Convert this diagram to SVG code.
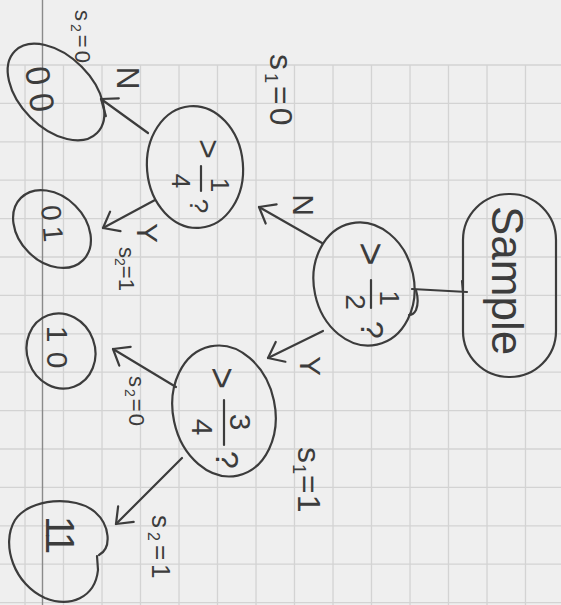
<svg xmlns="http://www.w3.org/2000/svg" width="561" height="605" viewBox="0 0 561 605">
  <defs>
    <style>
      .ink { fill: none; stroke: #3c3c3c; stroke-width: 2.2; stroke-linecap: round; stroke-linejoin: round; }
      .grid { stroke: #d3d3d3; stroke-width: 1.3; }
      .margin { stroke: #8a8a8a; stroke-width: 1.4; }
      text { font-family: "Liberation Sans", Arial, sans-serif; fill: #3c3c3c; }
      .c { text-anchor: middle; dominant-baseline: central; }
      .arrow { marker-end: url(#open); }
    </style>
    <marker id="open" viewBox="-16 -13 18 26" refX="0" refY="0" markerWidth="18" markerHeight="26" markerUnits="userSpaceOnUse" orient="auto" overflow="visible">
      <path d="M -14,-11 L 0,0 L -14,11" fill="none" stroke="#3c3c3c" stroke-width="2.2" stroke-linecap="round" stroke-linejoin="round"/>
    </marker>
  </defs>

  <!-- squared paper -->
  <rect x="0" y="0" width="561" height="605" fill="#efefef"/>
  <g id="paper-grid" class="grid">
    <line x1="0" y1="65" x2="561" y2="65"/>
    <line x1="0" y1="103.4" x2="561" y2="103.4"/>
    <line x1="0" y1="141.8" x2="561" y2="141.8"/>
    <line x1="0" y1="180.2" x2="561" y2="180.2"/>
    <line x1="0" y1="218.6" x2="561" y2="218.6"/>
    <line x1="0" y1="257" x2="561" y2="257"/>
    <line x1="0" y1="295.4" x2="561" y2="295.4"/>
    <line x1="0" y1="333.8" x2="561" y2="333.8"/>
    <line x1="0" y1="372.2" x2="561" y2="372.2"/>
    <line x1="0" y1="410.6" x2="561" y2="410.6"/>
    <line x1="0" y1="449" x2="561" y2="449"/>
    <line x1="0" y1="487.4" x2="561" y2="487.4"/>
    <line x1="0" y1="525.8" x2="561" y2="525.8"/>
    <line x1="0" y1="564.2" x2="561" y2="564.2"/>
    <line x1="0" y1="602.6" x2="561" y2="602.6"/>
    <line x1="25" y1="65" x2="25" y2="605"/>
    <line x1="63.5" y1="65" x2="63.5" y2="605"/>
    <line x1="102" y1="65" x2="102" y2="605"/>
    <line x1="140.5" y1="65" x2="140.5" y2="605"/>
    <line x1="179" y1="65" x2="179" y2="605"/>
    <line x1="217.5" y1="65" x2="217.5" y2="605"/>
    <line x1="256" y1="65" x2="256" y2="605"/>
    <line x1="294.5" y1="65" x2="294.5" y2="605"/>
    <line x1="333" y1="65" x2="333" y2="605"/>
    <line x1="371.5" y1="65" x2="371.5" y2="605"/>
    <line x1="410" y1="65" x2="410" y2="605"/>
    <line x1="448.5" y1="65" x2="448.5" y2="605"/>
    <line x1="487" y1="65" x2="487" y2="605"/>
    <line x1="525.5" y1="65" x2="525.5" y2="605"/>
  </g>
  <line class="margin" x1="42.5" y1="0" x2="42.5" y2="605"/>

  <!-- connectors -->
  <g id="connectors">
    <path class="ink" d="M 412,289 L 467,292"/>
    <path class="ink" d="M 462,281 L 463,292"/>
    <path class="ink" d="M 416,290 C 418,297 418,305 416,310 C 414,314 411,315 409,315"/>
    <path class="ink arrow" d="M 322,243 L 259,207"/>
    <path class="ink arrow" d="M 323,331 L 268,358"/>
    <path class="ink arrow" d="M 148,133 L 101,99"/>
    <path class="ink arrow" d="M 155,200 L 103,228"/>
    <path class="ink arrow" d="M 176,387 L 113,349"/>
    <path class="ink arrow" d="M 182,458 L 116,524"/>

    <text class="c" font-size="30" transform="translate(303,205) rotate(90)">N</text>
    <text class="c" font-size="30" transform="translate(310,366) rotate(90)">Y</text>
    <text class="c" font-size="32" transform="translate(128,78) rotate(90)">N</text>
    <text class="c" font-size="30" transform="translate(147,233) rotate(90)">Y</text>

    <text font-size="32" letter-spacing="3" transform="translate(270,54) rotate(90)">s<tspan font-size="18" dy="5">1</tspan><tspan dy="-5">=0</tspan></text>
    <text font-size="32" letter-spacing="1" transform="translate(298,447) rotate(90)">s<tspan font-size="18" dy="5">1</tspan><tspan dy="-5">=1</tspan></text>
    <text font-size="22" letter-spacing="3" transform="translate(75,10) rotate(90)">s<tspan font-size="14" dy="4">2</tspan><tspan dy="-4">=0</tspan></text>
    <text font-size="22" transform="translate(119,247) rotate(90)">s<tspan font-size="14" dy="4">2</tspan><tspan dy="-4">=1</tspan></text>
    <text font-size="22" letter-spacing="2" transform="translate(129,376) rotate(90)">s<tspan font-size="14" dy="4">2</tspan><tspan dy="-4">=0</tspan></text>
    <text font-size="26" letter-spacing="4" transform="translate(152,515) rotate(90)">s<tspan font-size="16" dy="4">2</tspan><tspan dy="-4">=1</tspan></text>
  </g>

  <!-- start node -->
  <g id="sample">
    <rect class="ink" x="463" y="194" width="93" height="183" rx="46"/>
    <text font-size="44" transform="translate(492,206) rotate(90)">Sample</text>
  </g>

  <!-- decision: > 1/2 ? -->
  <g id="half">
    <ellipse class="ink" cx="364" cy="284" rx="50" ry="62" transform="rotate(-12 364 284)"/>
    <g transform="translate(371,290) rotate(90)">
      <text class="c" font-size="40" x="-36" y="0">&gt;</text>
      <text class="c" font-size="28" x="8" y="-18">1</text>
      <line class="ink" x1="-10" y1="0" x2="18" y2="0"/>
      <text class="c" font-size="28" x="12" y="16">2</text>
      <text class="c" font-size="32" x="40" y="-1">?</text>
    </g>
  </g>

  <!-- decision: > 1/4 ? -->
  <g id="quarter">
    <ellipse class="ink" cx="195" cy="167" rx="48" ry="61" transform="rotate(-5 195 167)"/>
    <g transform="translate(201,176) rotate(90)">
      <text class="c" font-size="34" x="-27" y="-8">&gt;</text>
      <text class="c" font-size="26" x="9" y="-19">1</text>
      <line class="ink" x1="-10" y1="0" x2="15" y2="0"/>
      <text class="c" font-size="26" x="5" y="20">4</text>
      <text class="c" font-size="26" x="30" y="2">?</text>
    </g>
  </g>

  <!-- decision: > 3/4 ? -->
  <g id="three-quarters">
    <ellipse class="ink" cx="224" cy="411" rx="51" ry="66" transform="rotate(-12 224 411)"/>
    <g transform="translate(224,418) rotate(90)">
      <text class="c" font-size="38" x="-40" y="2">&gt;</text>
      <text class="c" font-size="30" x="4" y="-16">3</text>
      <line class="ink" x1="-18" y1="0" x2="27" y2="0"/>
      <text class="c" font-size="30" x="9" y="22">4</text>
      <text class="c" font-size="32" x="42" y="-3">?</text>
    </g>
  </g>

  <!-- outcomes -->
  <g id="leaf-00">
    <ellipse class="ink" cx="56" cy="92" rx="58" ry="36" transform="rotate(45 56 92)"/>
    <text class="c" font-size="34" x="-13.5 13.5" y="0" transform="translate(40,89) rotate(82)">00</text>
  </g>
  <g id="leaf-01">
    <ellipse class="ink" cx="52" cy="229" rx="44" ry="33" transform="rotate(45 52 229)"/>
    <text class="c" font-size="28" x="-10 11" y="0" transform="translate(52,223) rotate(85)">01</text>
  </g>
  <g id="leaf-10">
    <ellipse class="ink" cx="61" cy="351" rx="38" ry="34" transform="rotate(70 61 351)"/>
    <text class="c" font-size="30" x="-13 13" y="0" transform="translate(57,347) rotate(90)">10</text>
  </g>
  <g id="leaf-11">
    <path class="ink" d="M 99,555 C 112,548 110,525 95,512 C 75,495 30,498 15,520 C 0,545 15,585 45,598 C 70,608 95,598 98,570 L 97,556"/>
    <text class="c" font-size="40" x="-8 8" y="0" transform="translate(60,535) rotate(90)">11</text>
  </g>
</svg>
